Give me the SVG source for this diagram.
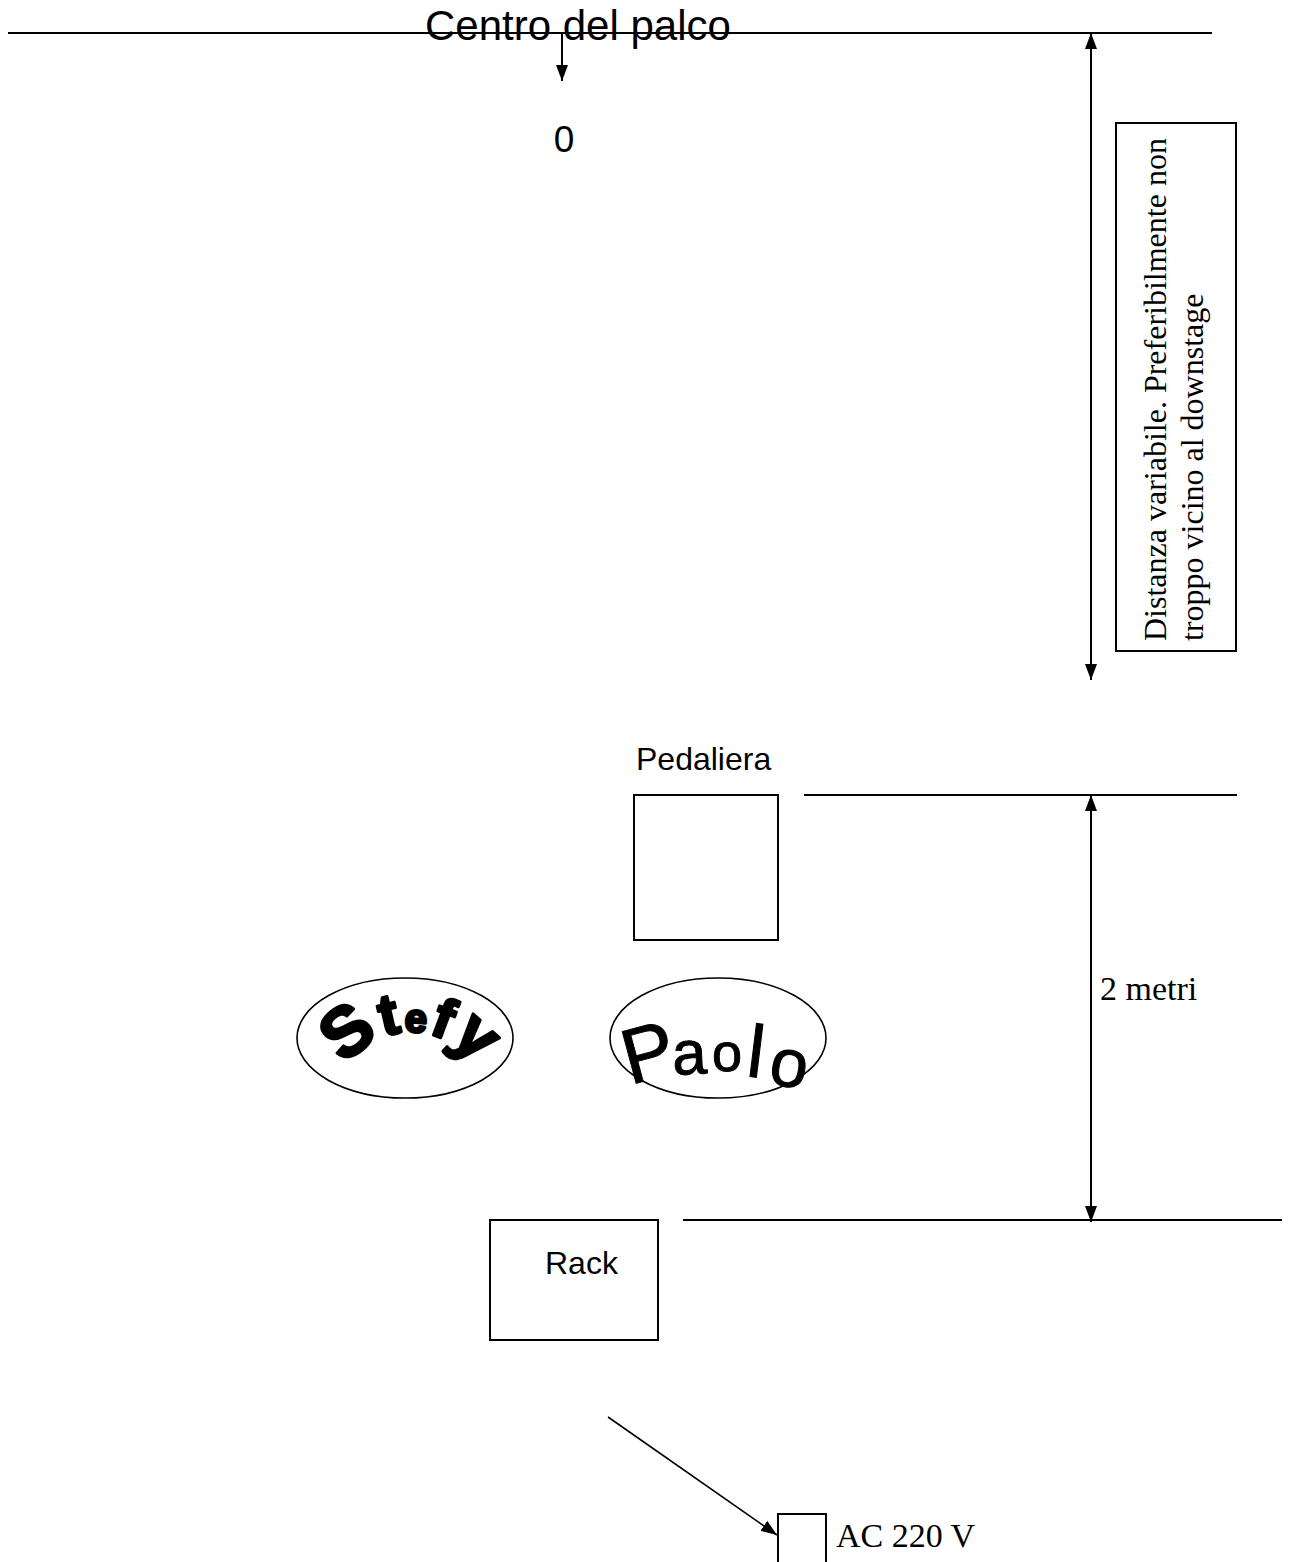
<svg xmlns="http://www.w3.org/2000/svg" width="1293" height="1562" viewBox="0 0 1293 1562">
<defs>
<marker id="ah" viewBox="0 0 16 12" markerWidth="16" markerHeight="12" refX="16" refY="6" orient="auto-start-reverse" markerUnits="userSpaceOnUse">
<path d="M0,0 L16,6 L0,12 z" fill="#000"/>
</marker>
<path id="stefyArc" d="M 333,1110 A 78 78 0 0 1 489,1110"/>
</defs>
<style>
.ln{stroke:#000;stroke-width:2;fill:none}
.bx{stroke:#000;stroke-width:2;fill:#fff}
.el{stroke:#000;stroke-width:1.6;fill:#fff}
.sans{font-family:"Liberation Sans",Arial,sans-serif;fill:#000}
.serif{font-family:"Liberation Serif","Times New Roman",serif;fill:#000}
</style>
<rect width="1293" height="1562" fill="#fff"/>

<g id="connectors">
<line class="ln" x1="8" y1="33" x2="1212" y2="33"/>
<line class="ln" x1="562" y1="33" x2="562" y2="81" marker-end="url(#ah)"/>
<line class="ln" x1="1091" y1="33" x2="1091" y2="680" marker-start="url(#ah)" marker-end="url(#ah)"/>
<line class="ln" x1="804" y1="795" x2="1237" y2="795"/>
<line class="ln" x1="1091" y1="795" x2="1091" y2="1222" marker-start="url(#ah)" marker-end="url(#ah)"/>
<line class="ln" x1="683" y1="1220" x2="1282" y2="1220"/>
<line class="ln" x1="608" y1="1417" x2="777" y2="1535" marker-end="url(#ah)" style="stroke-width:1.6"/>
</g>

<g id="centro">
<text class="sans" x="425" y="40" font-size="42">Centro del palco</text>
<text class="sans" x="564" y="152" font-size="37" text-anchor="middle">0</text>
</g>

<g id="note">
<rect class="bx" x="1116" y="123" width="120" height="528"/>
<text class="serif" font-size="32" transform="translate(1166,641) rotate(-90)">Distanza variabile. Preferibilmente non</text>
<text class="serif" font-size="32" transform="translate(1203,641) rotate(-90)">troppo vicino al downstage</text>
</g>

<g id="pedaliera">
<text class="sans" x="636" y="770" font-size="32">Pedaliera</text>
<rect class="bx" x="634" y="795" width="144" height="145"/>
</g>

<g id="metri">
<text class="serif" x="1100" y="1000" font-size="34">2 metri</text>
</g>

<g id="stefy">
<ellipse class="el" cx="405" cy="1038" rx="108" ry="60"/>
<text class="sans" font-weight="bold" text-anchor="middle" letter-spacing="2" stroke="#000" stroke-width="3" stroke-linejoin="round"><textPath href="#stefyArc" startOffset="50%"><tspan font-size="70">S</tspan><tspan font-size="58">t</tspan><tspan font-size="40">e</tspan><tspan font-size="56">f</tspan><tspan font-size="66">y</tspan></textPath></text>
</g>

<g id="paolo">
<ellipse class="el" cx="718" cy="1038" rx="108" ry="60"/>
<text class="sans" stroke="#000" stroke-width="1"><tspan x="630" y="1085" font-size="78" rotate="-15">P</tspan><tspan x="673" y="1075" font-size="62" rotate="-3">a</tspan><tspan x="712" y="1071" font-size="54">o</tspan><tspan x="745" y="1076" font-size="74" rotate="7">l</tspan><tspan x="767" y="1083" font-size="68" rotate="10">o</tspan></text>
</g>

<g id="rack">
<rect class="bx" x="490" y="1220" width="168" height="120"/>
<text class="sans" x="545" y="1274" font-size="32">Rack</text>
</g>

<g id="ac">
<rect class="bx" x="778" y="1514" width="48" height="52"/>
<text class="serif" x="836" y="1547" font-size="34">AC 220 V</text>
</g>
</svg>
